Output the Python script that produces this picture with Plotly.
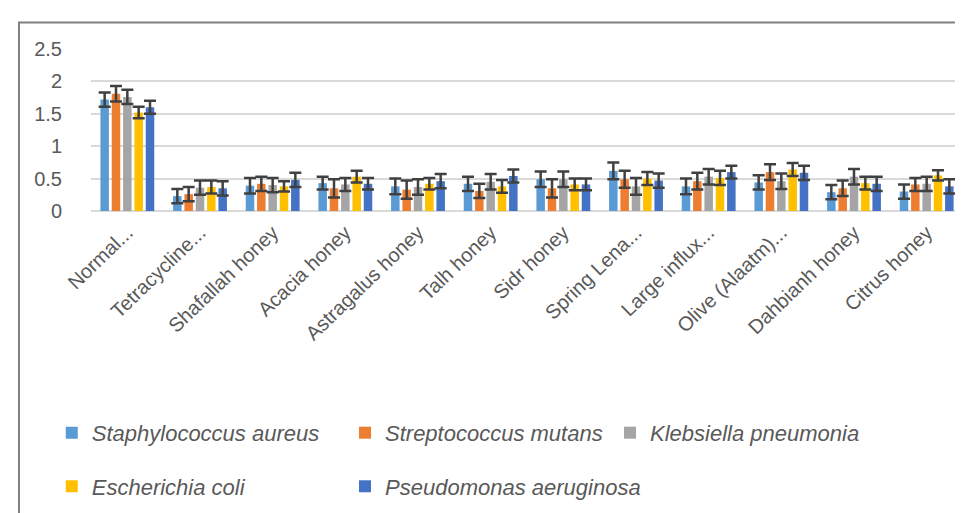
import plotly.graph_objects as go

categories = ["Normal...", "Tetracycline...", "Shafallah honey", "Acacia honey",
              "Astragalus honey", "Talh honey", "Sidr honey", "Spring Lena...",
              "Large influx...", "Olive (Alaatm)...", "Dahbianh honey", "Citrus honey"]

series_names = ["Staphylococcus aureus", "Streptococcus mutans", "Klebsiella pneumonia",
                "Escherichia coli", "Pseudomonas aeruginosa"]

staph = [1.72, 0.23, 0.39, 0.43, 0.38, 0.42, 0.49, 0.62, 0.38, 0.44, 0.29, 0.30]
strep = [1.81, 0.26, 0.42, 0.35, 0.33, 0.31, 0.35, 0.49, 0.46, 0.60, 0.35, 0.41]
kleb = [1.76, 0.36, 0.40, 0.41, 0.37, 0.45, 0.49, 0.38, 0.53, 0.46, 0.53, 0.42]
ecoli = [1.52, 0.37, 0.38, 0.53, 0.42, 0.38, 0.41, 0.50, 0.51, 0.64, 0.43, 0.55]
pseudo = [1.60, 0.35, 0.48, 0.42, 0.46, 0.54, 0.41, 0.47, 0.60, 0.59, 0.42, 0.38]

staph_err = [0.11, 0.11, 0.12, 0.10, 0.12, 0.11, 0.12, 0.13, 0.12, 0.11, 0.11, 0.11]
strep_err = [0.12, 0.11, 0.11, 0.14, 0.14, 0.11, 0.14, 0.13, 0.13, 0.12, 0.12, 0.10]
kleb_err = [0.11, 0.11, 0.11, 0.10, 0.12, 0.12, 0.12, 0.13, 0.12, 0.12, 0.12, 0.11]
ecoli_err = [0.09, 0.10, 0.08, 0.09, 0.09, 0.10, 0.09, 0.10, 0.11, 0.10, 0.10, 0.08]
pseudo_err = [0.10, 0.11, 0.11, 0.09, 0.11, 0.10, 0.09, 0.11, 0.10, 0.11, 0.11, 0.11]

colors = ["#5B9BD5", "#ED7D31", "#A5A5A5", "#FFC000", "#4472C4"]
values = [staph, strep, kleb, ecoli, pseudo]
errors = [staph_err, strep_err, kleb_err, ecoli_err, pseudo_err]
legend_ids = ["legend", "legend2", "legend3", "legend", "legend2"]

fig = go.Figure()
for i, (name, v, e, c) in enumerate(zip(series_names, values, errors, colors)):
    fig.add_trace(go.Bar(
        x=categories, y=v, name=name, marker_color=c, marker_line_width=0,
        error_y=dict(type="data", array=e, visible=True, color="#404040",
                     thickness=2.5, width=6),
        legend=legend_ids[i], legendgroup=f"g{i}",
    ))

text_color = "#595959"
legend_common = dict(
    orientation="v", xanchor="left", yanchor="top", y=-1.24,
    font=dict(family="Liberation Sans", size=22, color=text_color, style="italic"),
    itemwidth=30, tracegroupgap=22,
    bgcolor="rgba(0,0,0,0)",
)

fig.update_layout(
    width=963, height=513,
    margin=dict(l=83, r=8, t=41, b=310),
    paper_bgcolor="white", plot_bgcolor="white",
    barmode="group", bargap=0.22, bargroupgap=0.25,
    showlegend=True,
    legend=dict(x=-0.045, **legend_common),
    legend2=dict(x=0.2913, **legend_common),
    legend3=dict(x=0.5952, **legend_common),
    xaxis=dict(
        tickangle=-44, tickfont=dict(family="Liberation Sans", size=20, color=text_color),
        showgrid=False, showline=False, ticks="outside", ticklen=1,
        tickcolor="rgba(0,0,0,0)", fixedrange=True,
    ),
    yaxis=dict(
        range=[0, 2.5], tickvals=[0, 0.5, 1, 1.5, 2, 2.5],
        ticktext=["0", "0.5", "1", "1.5", "2", "2.5"],
        tickfont=dict(family="Liberation Sans", size=20, color=text_color),
        gridcolor="#D9D9D9", gridwidth=1.5, zeroline=True, zerolinecolor="#D9D9D9",
        zerolinewidth=1.5, showline=False, ticks="outside", ticklen=24,
        tickcolor="rgba(0,0,0,0)",
    ),
    shapes=[dict(type="rect", xref="paper", yref="paper",
                 x0=-0.0826, x1=1.08, y0=-2.0, y1=1.164,
                 line=dict(color="#808080", width=2), layer="below")],
)

fig.write_html("out.html")
